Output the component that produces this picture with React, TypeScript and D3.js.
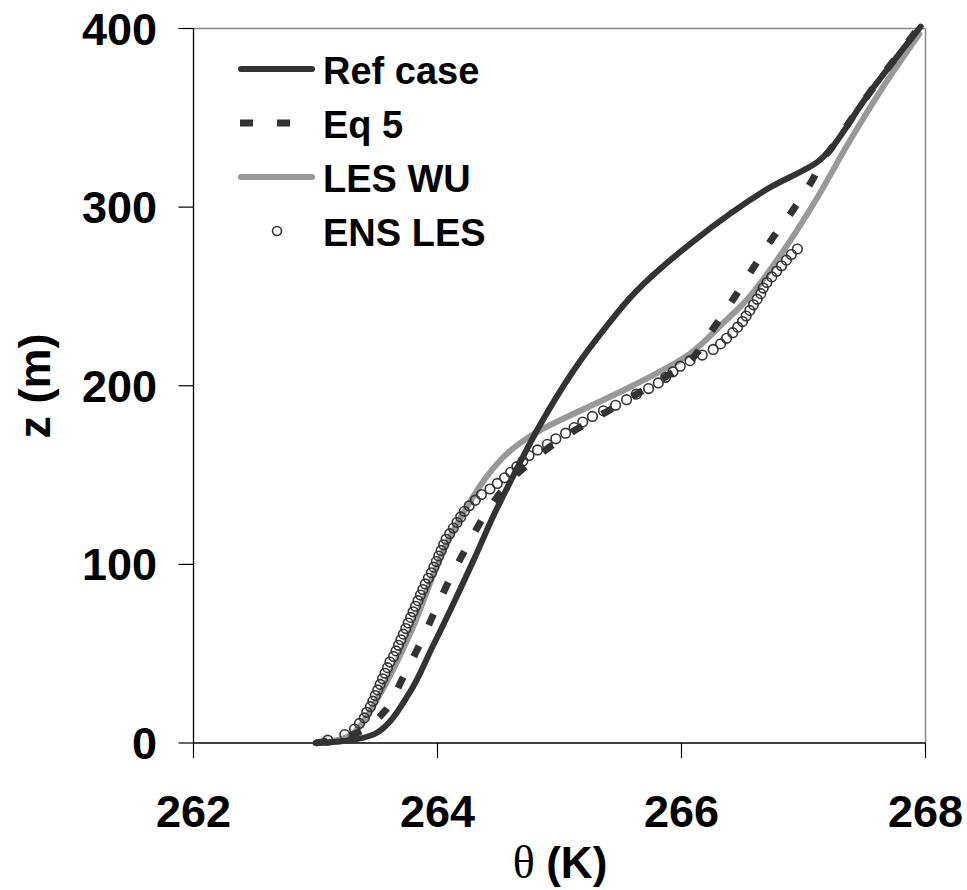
import * as d3 from 'd3';

// theta (K), z (m)
const refCase: [number, number][] = [
  [263.0, 0], [263.5, 5.6], [263.77, 28], [263.96, 54], [264.13, 78], [264.32, 106],
  [264.45, 126], [264.58, 144], [264.84, 178], [265.11, 208], [265.37, 232], [265.63, 253],
  [266.1, 281], [266.7, 310], [267.11, 325], [267.24, 334], [267.52, 362], [267.96, 401],
];

const eq5: [number, number][] = [
  [263.0, 0], [263.35, 6], [263.57, 18], [263.72, 37], [263.86, 56], [263.98, 74],
  [264.11, 93], [264.25, 111], [264.4, 129], [264.6, 147], [264.81, 160], [265.03, 171],
  [265.3, 182], [265.55, 192], [265.82, 203], [266.07, 214], [266.25, 231], [266.41, 247],
  [266.57, 264], [266.74, 282], [266.91, 298], [267.08, 316], [267.15, 326], [267.24, 334],
  [267.52, 362], [267.94, 400],
];

const lesWU: [number, number][] = [
  [263.05, 0], [263.3, 5], [263.55, 30], [263.8, 65], [263.96, 93], [264.1, 115],
  [264.24, 132], [264.36, 145], [264.46, 154], [264.57, 162], [264.7, 169], [264.84, 175],
  [265.2, 187], [265.6, 200], [266.07, 218], [266.34, 235], [266.56, 250], [266.84, 276],
  [267.11, 305], [267.37, 336], [267.65, 367], [267.95, 397],
];

// ensemble LES levels (m) and theta at each level (K)
const ensZ = [
  1.56, 4.69, 7.81, 10.94, 14.06, 17.19, 20.31, 23.44, 26.56, 29.69, 32.81, 35.94, 39.06,
  42.19, 45.31, 48.44, 51.56, 54.69, 57.81, 60.94, 64.06, 67.19, 70.31, 73.44, 76.56, 79.69,
  82.81, 85.94, 89.06, 92.19, 95.31, 98.44, 101.56, 104.69, 107.81, 110.94, 114.06, 117.19,
  120.31, 123.44, 126.56, 129.69, 132.81, 135.94, 139.06, 142.19, 145.31, 148.44, 151.56,
  154.69, 157.81, 160.94, 164.06, 167.19, 170.31, 173.44, 176.56, 179.69, 182.81, 185.94,
  189.06, 192.19, 195.31, 198.44, 201.56, 204.69, 207.81, 210.94, 214.06, 217.19, 220.31,
  223.44, 226.56, 229.69, 232.81, 235.94, 239.06, 242.19, 245.31, 248.44, 251.56, 254.69,
  257.81, 260.94, 264.06, 267.19, 270.31, 273.44, 276.56,
];
const ensTheta = [
  263.1, 263.24, 263.32, 263.36, 263.4, 263.42, 263.45, 263.47, 263.49, 263.51, 263.53,
  263.55, 263.57, 263.59, 263.61, 263.64, 263.66, 263.68, 263.7, 263.72, 263.74, 263.76,
  263.78, 263.8, 263.82, 263.84, 263.86, 263.88, 263.9, 263.925, 263.95, 263.97, 263.99,
  264.01, 264.03, 264.05, 264.07, 264.1, 264.13, 264.16, 264.19, 264.22, 264.26, 264.31,
  264.36, 264.43, 264.49, 264.55, 264.6, 264.65, 264.7, 264.75, 264.82, 264.9, 264.97,
  265.05, 265.12, 265.19, 265.27, 265.36, 265.46, 265.55, 265.63, 265.73, 265.81, 265.87,
  265.93, 265.99, 266.07, 266.17, 266.26, 266.32, 266.37, 266.42, 266.46, 266.5, 266.53,
  266.56, 266.59, 266.62, 266.65, 266.67, 266.7, 266.74, 266.78, 266.82, 266.86, 266.9, 266.95,
];

const xTicks = [262, 264, 266, 268];
const yTicks = [0, 100, 200, 300, 400];
const legendItems = ['Ref case', 'Eq 5', 'LES WU', 'ENS LES'];

const W = 967;
const H = 890;
const font = '"Liberation Sans", Arial, Helvetica, sans-serif';

export default function App() {
  const x = d3.scaleLinear().domain([262, 268]).range([193.5, 925.5]);
  const y = d3.scaleLinear().domain([0, 400]).range([743, 28.5]);

  const line = d3
    .line<[number, number]>()
    .x((d) => x(d[0]))
    .y((d) => y(d[1]))
    .curve(d3.curveCatmullRom.alpha(0.5));

  const ens = ensZ.map((z, i) => [ensTheta[i], z] as [number, number]);

  const dark = '#333333';
  const gray = '#999999';

  return (
    <div style={{ position: 'absolute', left: 0, top: 0 }}>
      <svg width={W} height={H} viewBox={`0 0 ${W} ${H}`} style={{ display: 'block', background: '#fff' }}>
        {/* frame */}
        <line x1={x(262)} x2={x(268)} y1={y(400)} y2={y(400)} stroke="#888" strokeWidth={1.5} />
        <line x1={x(268)} x2={x(268)} y1={y(400)} y2={y(0)} stroke="#888" strokeWidth={1.5} />
        <line x1={x(262)} x2={x(262)} y1={y(400)} y2={y(0)} stroke="#000" strokeWidth={1.3} />
        <line x1={x(262)} x2={x(268)} y1={y(0)} y2={y(0)} stroke="#000" strokeWidth={1.3} />

        {yTicks.map((t) => (
          <g key={`y${t}`}>
            <line x1={x(262) - 15} x2={x(262)} y1={y(t)} y2={y(t)} stroke="#000" strokeWidth={1.2} />
            <text
              x={157}
              y={y(t) + 16}
              textAnchor="end"
              fontFamily={font}
              fontWeight="bold"
              fontSize={45}
              fill="#000"
            >
              {t}
            </text>
          </g>
        ))}

        {xTicks.map((t) => (
          <g key={`x${t}`}>
            <line x1={x(t)} x2={x(t)} y1={y(0)} y2={y(0) + 15} stroke="#000" strokeWidth={1.2} />
            <text
              x={x(t)}
              y={827}
              textAnchor="middle"
              fontFamily={font}
              fontWeight="bold"
              fontSize={45}
              fill="#000"
            >
              {t}
            </text>
          </g>
        ))}

        {/* axis titles */}
        <text
          transform="translate(50,386) rotate(-90)"
          textAnchor="middle"
          fontFamily={font}
          fontWeight="bold"
          fontSize={45}
          fill="#000"
        >
          z (m)
        </text>
        <text x={560} y={878} textAnchor="middle" fill="#000">
          <tspan fontFamily='"Liberation Serif", "Times New Roman", serif' fontSize={46}>θ </tspan>
          <tspan fontFamily={font} fontWeight="bold" fontSize={44}>(K)</tspan>
        </text>

        {/* series */}
        <path d={line(lesWU) ?? ''} fill="none" stroke={gray} strokeWidth={6} strokeLinecap="round" />
        <path d={line(refCase) ?? ''} fill="none" stroke={dark} strokeWidth={6} strokeLinecap="round" />
        <path d={line(eq5) ?? ''} fill="none" stroke={dark} strokeWidth={7} strokeDasharray="12,23" />
        {ens.map((d, i) => (
          <circle key={i} cx={x(d[0])} cy={y(d[1])} r={4.8} fill="none" stroke={dark} strokeWidth={1.6} />
        ))}

        {/* legend */}
        {legendItems.map((name, i) => {
          const cy = 69 + i * 54;
          return (
            <g key={name}>
              {i === 0 && <line x1={241} x2={312} y1={cy} y2={cy} stroke={dark} strokeWidth={6} strokeLinecap="round" />}
              {i === 1 && <line x1={240} x2={290} y1={cy} y2={cy} stroke={dark} strokeWidth={7} strokeDasharray="13,24" />}
              {i === 2 && <line x1={241} x2={312} y1={cy} y2={cy} stroke={gray} strokeWidth={6} strokeLinecap="round" />}
              {i === 3 && <circle cx={277} cy={cy} r={4.5} fill="none" stroke={dark} strokeWidth={1.6} />}
              <text x={323} y={cy + 15} fontFamily={font} fontWeight="bold" fontSize={38} fill="#000">
                {name}
              </text>
            </g>
          );
        })}
      </svg>
    </div>
  );
}
